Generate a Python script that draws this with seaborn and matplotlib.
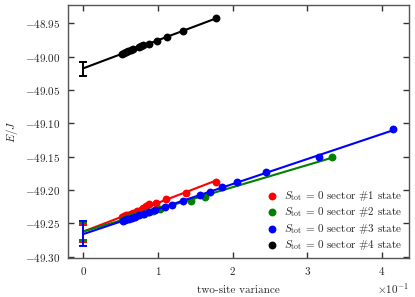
import numpy as np
import pandas as pd
import matplotlib
matplotlib.use("Agg")
import matplotlib.pyplot as plt
import seaborn as sns
from matplotlib.ticker import FuncFormatter, MultipleLocator

# ---- data ----
labels = [r"$S_{\rm tot}\,=\,0$ sector #1 state",
          r"$S_{\rm tot}\,=\,0$ sector #2 state",
          r"$S_{\rm tot}\,=\,0$ sector #3 state",
          r"$S_{\rm tot}\,=\,0$ sector #4 state"]
colors = ["#ff0000", "#008000", "#0000ff", "#000000"]

var1 = [0.0526, 0.0553, 0.0580, 0.0606, 0.0639, 0.0673, 0.0719, 0.0776, 0.0807,
        0.0843, 0.0888, 0.0977, 0.1107, 0.1372, 0.1772]
e1 = [-49.2405, -49.2390, -49.2380, -49.2369, -49.2354, -49.2339, -49.2320, -49.2300,
      -49.2274, -49.2240, -49.2214, -49.2189, -49.2135, -49.2040, -49.1874]

var2 = [0.0530, 0.0560, 0.0590, 0.0620, 0.0655, 0.0690, 0.0740, 0.0807, 0.0870,
        0.0941, 0.1031, 0.1442, 0.1633, 0.3337]
e2 = [-49.2442, -49.2432, -49.2422, -49.2412, -49.2400, -49.2388, -49.2371, -49.2354,
      -49.2330, -49.2315, -49.2285, -49.2160, -49.2100, -49.1500]

var3 = [0.0530, 0.0560, 0.0590, 0.0620, 0.0660, 0.0700, 0.0750, 0.0810, 0.0880,
        0.0960, 0.1094, 0.1185, 0.1339, 0.1566, 0.1700, 0.1861, 0.2062, 0.2446,
        0.3159, 0.4154]
e3 = [-49.2460, -49.2449, -49.2438, -49.2427, -49.2412, -49.2398, -49.2380, -49.2358,
      -49.2333, -49.2304, -49.2255, -49.2218, -49.2159, -49.2080, -49.2024, -49.1955,
      -49.1877, -49.1730, -49.1505, -49.1090]

var4 = [0.0526, 0.0553, 0.0580, 0.0606, 0.0639, 0.0673, 0.0746, 0.0776, 0.0807,
        0.0887, 0.0990, 0.1124, 0.1339, 0.1777]
e4 = [-48.9960, -48.9940, -48.9930, -48.9915, -48.9900, -48.9890, -48.9860, -48.9845,
      -48.9830, -48.9805, -48.9765, -48.9705, -48.9615, -48.9420]

# extrapolated (zero-variance) energies and their error bars
e0 = [-49.2655, -49.2625, -49.2655, -49.0186]
e0_err = [0.0130, 0.0130, 0.0190, 0.0110]

series_var = [var1, var2, var3, var4]
series_e = [e1, e2, e3, e4]

# ---- style ----
sns.set_style("ticks")
plt.rcParams["font.family"] = "serif"
plt.rcParams["font.serif"] = ["cmr10", "DejaVu Serif"]
plt.rcParams["mathtext.fontset"] = "cm"
plt.rcParams["axes.formatter.use_mathtext"] = True
plt.rcParams["axes.unicode_minus"] = True

fig = plt.figure(figsize=(4.15, 2.97), dpi=100)
ax = fig.add_axes([0.163, 0.130, 0.8225, 0.853])

for i in range(4):
    df = pd.DataFrame({"var": series_var[i], "E": series_e[i]})
    k, b = np.polyfit(df["var"], df["E"], 1)
    xs = np.array([0.0, df["var"].max()])
    ax.plot(xs, k * xs + b, color=colors[i], lw=1.5, zorder=2 + i)
    sns.scatterplot(data=df, x="var", y="E", color=colors[i], s=32, linewidth=0,
                    ax=ax, zorder=2 + i, label=labels[i])
    ax.errorbar([0.0], [e0[i]], yerr=[e0_err[i]], color=colors[i], capsize=3,
                capthick=1.4, elinewidth=1.4, fmt="none", zorder=2 + i)

ax.set_xlim(-0.0208, 0.4363)
ax.set_ylim(-49.3025, -48.9225)
ax.xaxis.set_major_locator(MultipleLocator(0.1))
ax.yaxis.set_major_locator(MultipleLocator(0.05))
ax.ticklabel_format(axis="x", style="sci", scilimits=(-1, -1), useMathText=True)
ax.yaxis.set_major_formatter(FuncFormatter(lambda v, p: f"${v:.2f}$"))

ax.tick_params(direction="in", top=True, right=True, length=4, width=1.0,
               labelsize=8, colors="#333333", labelcolor="#222222", pad=5)
for sp in ax.spines.values():
    sp.set_color("#555555")
    sp.set_linewidth(1.0)

ax.set_xlabel("two-site variance", fontsize=8, labelpad=6)
ax.set_ylabel(r"$E/J$", fontsize=8, labelpad=4)
ax.xaxis.get_offset_text().set_fontsize(8)

ax.legend(loc="lower right", frameon=False, fontsize=8, handletextpad=0.1,
          borderaxespad=0.2, labelspacing=0.2, markerscale=1.0)

fig.savefig("out.png", dpi=100)
